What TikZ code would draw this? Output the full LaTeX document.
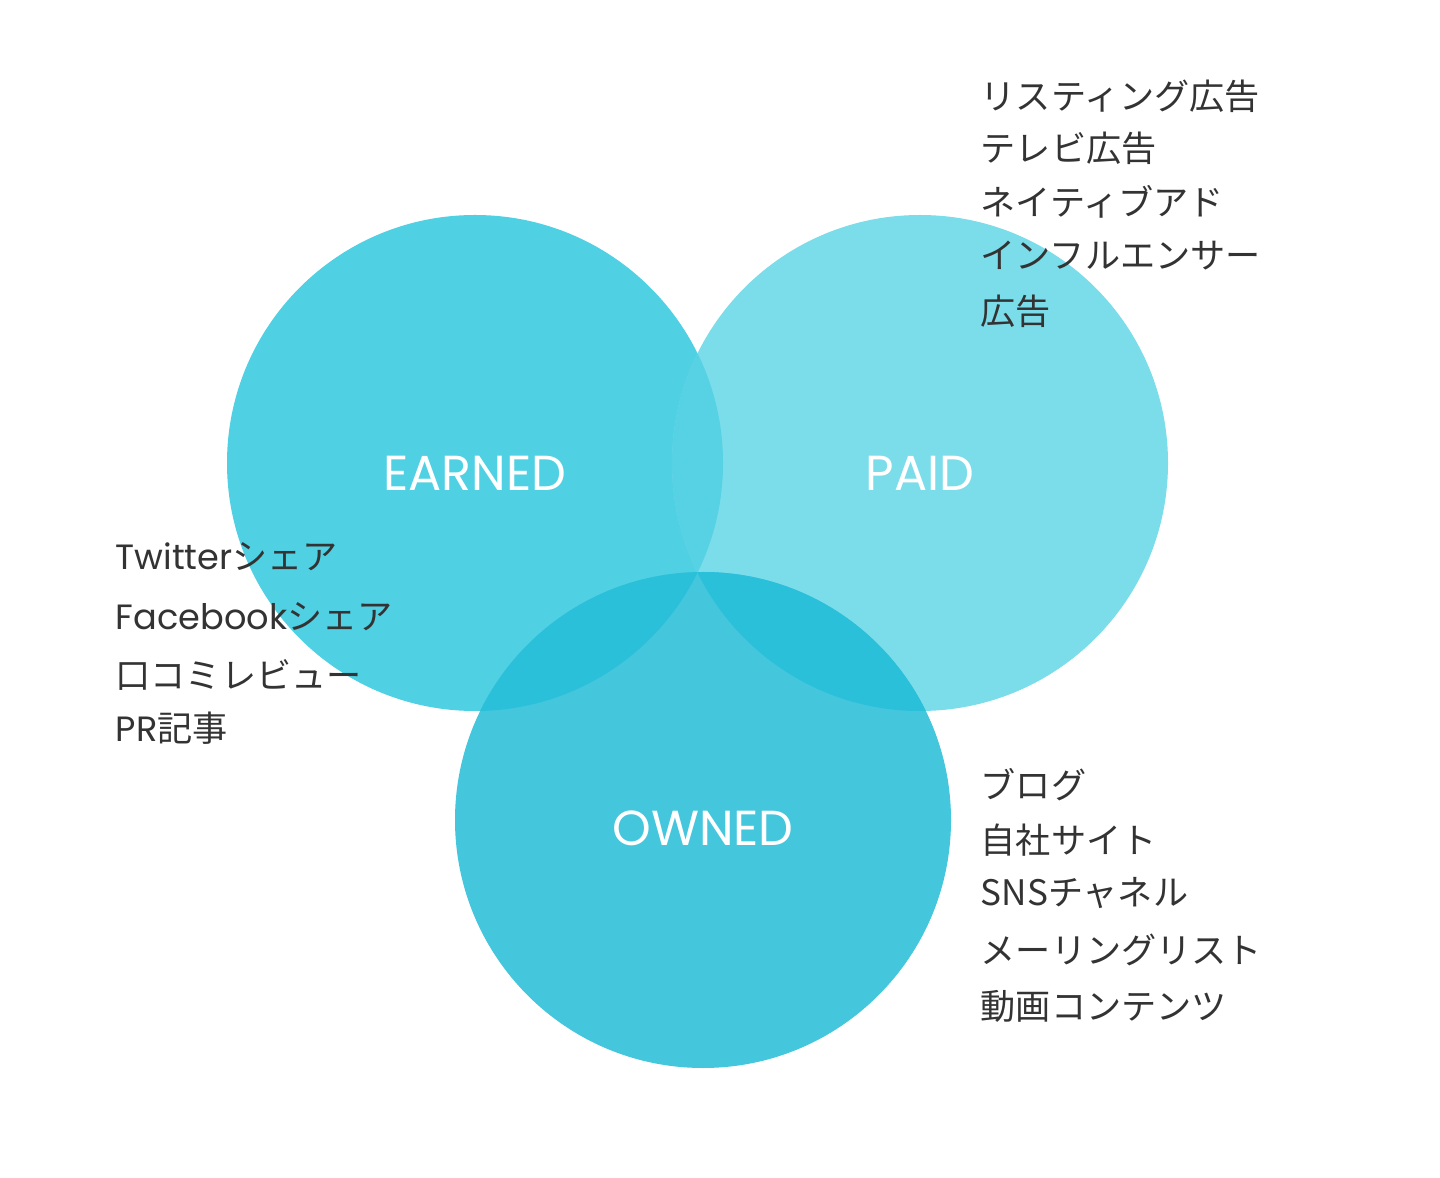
\documentclass[tikz,border=0pt]{standalone}
\usepackage{fontspec}
\setmainfont{Poppins}
\newfontfamily\jpfont{Noto Sans CJK JP}
\newcommand{\lat}[1]{{\rmfamily #1}}
\definecolor{earnedc}{HTML}{4FD0E3}
\definecolor{paidc}{HTML}{7BDCEA}
\definecolor{ownedc}{HTML}{44C6DD}
\definecolor{epc}{HTML}{57D1E4}
\definecolor{darkc}{HTML}{2AC0DA}
\definecolor{txt}{HTML}{333333}
\begin{document}
\begin{tikzpicture}[
    venn/.style={circle, minimum size=4.96cm, inner sep=0pt, text=white, font=\fontsize{14}{16}\selectfont},
    item/.style={anchor=west, inner sep=0pt, text=txt, font=\jpfont\fontsize{10}{12}\selectfont}]
    \useasboundingbox (0,0) rectangle (14.40,11.77);

    % circles
    \node[venn, fill=earnedc] (earned) at (4.75,7.14) {};
    \node[venn, fill=paidc] (paid) at (9.20,7.14) {};
    \begin{scope}
        \clip (earned.center) circle (2.48);
        \fill[epc] (paid.center) circle (2.48);
    \end{scope}
    \node[venn, fill=ownedc] (owned) at (7.03,3.57) {};
    \begin{scope}
        \clip (owned.center) circle (2.48);
        \fill[darkc] (earned.center) circle (2.48);
        \fill[darkc] (paid.center) circle (2.48);
        \clip (earned.center) circle (2.48);
        \fill[ownedc] (paid.center) circle (2.48);
    \end{scope}

    \node[venn] (earnedlbl) at (4.75,7.04) {EARNED};
    \node[venn] (paidlbl) at (9.20,7.04) {PAID};
    \node[venn] (ownedlbl) at (7.03,3.49) {OWNED};

    % paid media
    \node[item] (p1) at (9.80,10.81) {リスティング広告};
    \node[item] (p2) at (9.80,10.29) {テレビ広告};
    \node[item] (p3) at (9.80,9.75) {ネイティブアド};
    \node[item] (p4) at (9.80,9.21) {インフルエンサー};
    \node[item] (p5) at (9.80,8.66) {広告};

    % earned media
    \node[item] (e1) at (1.15,6.20) {\lat{Twitter}シェア};
    \node[item] (e2) at (1.15,5.60) {\lat{Facebook}シェア};
    \node[item] (e3) at (1.15,5.02) {口コミレビュー};
    \node[item] (e4) at (1.15,4.49) {\lat{PR}記事};

    % owned media
    \node[item] (o1) at (9.80,3.92) {ブログ};
    \node[item] (o2) at (9.80,3.37) {自社サイト};
    \node[item] (o3) at (9.80,2.84) {SNSチャネル};
    \node[item] (o4) at (9.80,2.27) {メーリングリスト};
    \node[item] (o5) at (9.80,1.71) {動画コンテンツ};
\end{tikzpicture}
\end{document}
